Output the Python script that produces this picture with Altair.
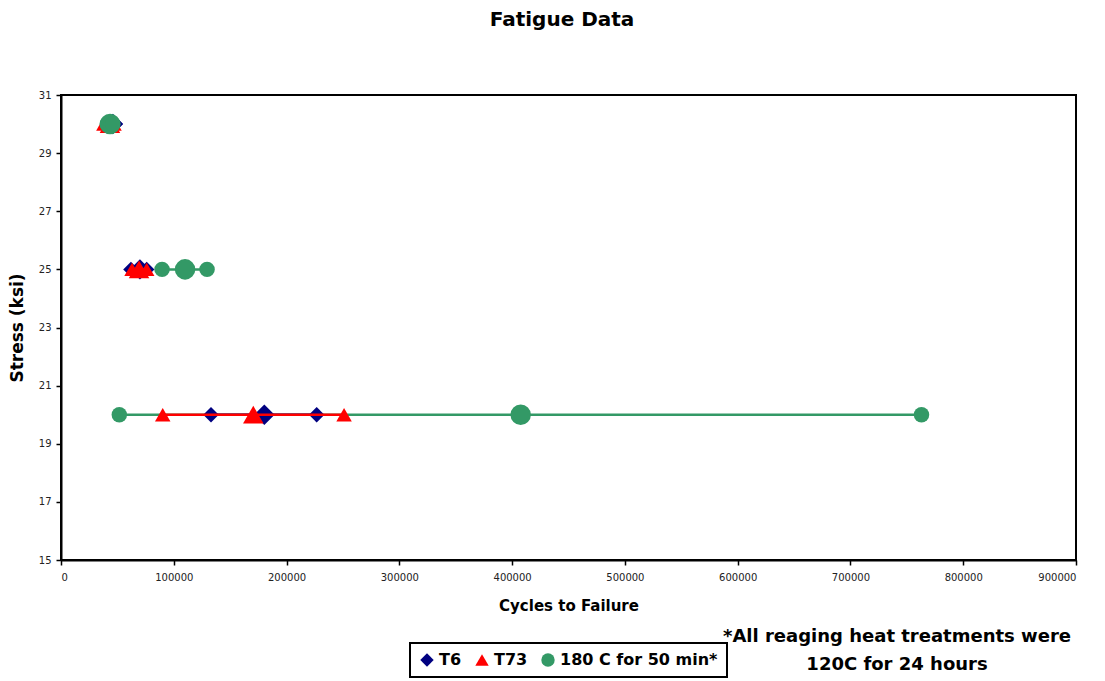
import altair as alt
import pandas as pd

# ---- data ----
series_names = ["T6", "T73", "180 C for 50 min*"]
series_colors = ["#000080", "#FF0000", "#339966"]
series_shapes = ["diamond", "triangle-up", "circle"]

t6_stress = [30, 30, 30, 25, 25, 25, 20, 20, 20]
t6_cycles = [42000, 46000, 48000, 62000, 70000, 76000, 133000, 180300, 226700]
t6_kind = ["small", "large", "small", "small", "large", "small", "small", "large", "small"]

t73_stress = [30, 30, 30, 25, 25, 25, 20, 20, 20]
t73_cycles = [38000, 43400, 47000, 63000, 69200, 76000, 90200, 170500, 251000]
t73_kind = ["small", "large", "small", "small", "large", "small", "small", "large", "small"]

g_stress = [30, 30, 30, 25, 25, 25, 20, 20, 20]
g_cycles = [41000, 43500, 46000, 89600, 110000, 129500, 51700, 407600, 763000]
g_kind = ["small", "large", "small", "small", "large", "small", "small", "large", "small"]

x_ticks = [0, 100000, 200000, 300000, 400000, 500000, 600000, 700000, 800000, 900000]
y_ticks = [15, 17, 19, 21, 23, 25, 27, 29, 31]

rows = []
for name, st, cy, kd in [
    (series_names[0], t6_stress, t6_cycles, t6_kind),
    (series_names[1], t73_stress, t73_cycles, t73_kind),
    (series_names[2], g_stress, g_cycles, g_kind),
]:
    for s, c, k in zip(st, cy, kd):
        rows.append({"series": name, "stress": s, "cycles": c, "kind": k})
df = pd.DataFrame(rows)

W, H = 1015, 465

x_enc = alt.X("cycles:Q", scale=alt.Scale(domain=[0, 900000], nice=False),
              axis=alt.Axis(values=x_ticks, format="d", title="Cycles to Failure"))
y_enc = alt.Y("stress:Q", scale=alt.Scale(domain=[15, 31], nice=False, zero=False),
              axis=alt.Axis(values=y_ticks, title="Stress (ksi)"))

legend = alt.Legend(title=None, orient="none", legendX=349, legendY=548, direction="horizontal")
color_enc = alt.Color("series:N", scale=alt.Scale(domain=series_names, range=series_colors),
                      sort=series_names, legend=legend)
shape_enc = alt.Shape("series:N", scale=alt.Scale(domain=series_names, range=series_shapes),
                      sort=series_names, legend=legend)

base = alt.Chart(df)


def line_layer(name, color):
    return base.transform_filter(alt.datum.series == name).mark_line(
        color=color, strokeWidth=2.5).encode(
        x=x_enc, y=y_enc, detail="stress:N", order="cycles:Q")


def point_layer(name, big):
    return base.transform_filter(alt.datum.series == name).mark_point(
        filled=True, opacity=1, strokeWidth=0).encode(
        x=x_enc, y=y_enc, color=color_enc, shape=shape_enc,
        size=alt.Size("kind:N", scale=alt.Scale(domain=["small", "large"], range=big), legend=None))


layers = [
    line_layer(series_names[2], series_colors[2]),
    line_layer(series_names[0], series_colors[0]),
    point_layer(series_names[0], [240, 420]),
    line_layer(series_names[1], series_colors[1]),
    point_layer(series_names[1], [270, 640]),
    point_layer(series_names[2], [180, 390]),
]

txt = pd.DataFrame({"t": ["x"]})
BOLD = "DejaVu Sans"
title = alt.Chart(txt).mark_text(text="Fatigue Data", font=BOLD, fontSize=20,
                                 fontWeight="bold", align="center", baseline="middle").encode(
    x=alt.value(501), y=alt.value(-75))
note1 = alt.Chart(txt).mark_text(text="*All reaging heat treatments were", font=BOLD,
                                 fontSize=18, fontWeight="bold", align="center",
                                 baseline="middle").encode(x=alt.value(836), y=alt.value(542))
note2 = alt.Chart(txt).mark_text(text="120C for 24 hours", font=BOLD,
                                 fontSize=18, fontWeight="bold", align="center",
                                 baseline="middle").encode(x=alt.value(836), y=alt.value(570))

chart = alt.layer(*layers, title, note1, note2).properties(
    width=W, height=H,
    autosize=alt.AutoSizeParams(type="none"),
    padding={"left": 61, "top": 95, "right": 29, "bottom": 121},
).configure_view(
    stroke="black", strokeWidth=2
).configure_axis(
    grid=False, domainColor="black", domainWidth=2, tickColor="black", tickWidth=1.5,
    tickSize=5, labelFont="DejaVu Sans", labelFontSize=10, labelColor="#222222",
    titleFont=BOLD, titleFontWeight="bold", titleColor="black",
).configure_axisX(
    labelPadding=7, titleFontSize=15, titlePadding=16,
).configure_axisY(
    labelPadding=5, titleFontSize=17, titlePadding=12,
).configure_legend(
    strokeColor="black", strokeWidth=2, padding=9, fillColor="white",
    labelFont=BOLD, labelFontSize=16, labelFontWeight="bold", labelColor="black",
    labelLimit=400, symbolSize=180, symbolStrokeWidth=0, columnPadding=12, labelOffset=4,
)

chart.save("out.html", embed_options={"renderer": "svg", "actions": False})
